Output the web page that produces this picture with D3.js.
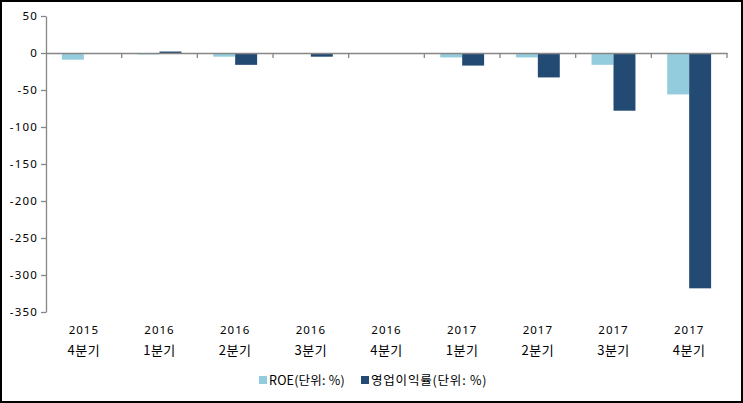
<!DOCTYPE html>
<html><head><meta charset="utf-8">
<script src="https://cdn.jsdelivr.net/npm/d3@7"></script>
<style>body{margin:0;background:#fff}svg{display:block}text{font-family:"Noto Sans CJK KR","DejaVu Sans",sans-serif;}</style>
</head><body><svg id="c" width="743" height="403"></svg>
<script>
const years = ["2015","2016","2016","2016","2016","2017","2017","2017","2017"];
const quarters = ["4분기","1분기","2분기","3분기","4분기","1분기","2분기","3분기","4분기"];
const roe = [-9, -2, -5, 0, 0, -6, -6, -16, -56];
const opMargin = [0, 2, -16, -5, 0, -17, -33, -78, -318];
const yTicks = [50, 0, -50, -100, -150, -200, -250, -300, -350];
const seriesNames = ["ROE(단위: %)", "영업이익률(단위: %)"];
const colors = ["#93CDDD", "#234A73"];

const svg = d3.select("#c");
svg.append("rect").attr("x",1).attr("y",1).attr("width",741).attr("height",401).attr("fill","#fff").attr("stroke","#000").attr("stroke-width",2);

const x0 = d3.scaleBand().domain(d3.range(years.length)).range([46, 727]);
const y = d3.scaleLinear().domain([-350, 50]).range([312, 16]);
const bw = x0.bandwidth() * 0.29;

const numFont = "'Noto Sans','DejaVu Sans',sans-serif";
const g = svg.append("g");
// y axis
const yAxis = g.append("g").attr("transform","translate(46,0)").call(d3.axisLeft(y).tickValues(yTicks).tickSize(5).tickSizeOuter(0).tickFormat(d => String(d)));
yAxis.select(".domain").attr("stroke","#868686").attr("stroke-width",1.3);
yAxis.selectAll(".tick line").attr("stroke","#868686").attr("stroke-width",1.3);
yAxis.selectAll("text").attr("font-size",11.5).attr("fill","#000").attr("x",-8).style("font-family",numFont).style("letter-spacing","1.2px");

const data = years.map((yr,i)=>({i, v:[roe[i], opMargin[i]]}));
data.forEach(d=>{
  d.v.forEach((v,s)=>{
    if (v===0) return;
    const cx = x0(d.i) + x0.bandwidth()/2 - bw + s*bw;
    g.append("rect").attr("x",cx).attr("width",bw)
     .attr("y", Math.min(y(v), y(0))).attr("height", Math.abs(y(v)-y(0)))
     .attr("fill", colors[s]);
  });
});

// x axis at zero
const xAxis = g.append("g").attr("transform",`translate(0,${y(0)})`)
  .call(d3.axisBottom(x0).tickValues([]).tickSizeOuter(0));
xAxis.select(".domain").attr("stroke","#868686").attr("stroke-width",1.3);
const tickXs = d3.range(1, years.length+1).map(i=> i<years.length ? x0(i) : 727);
tickXs.forEach(tx=>{
  g.append("line").attr("x1",tx).attr("x2",tx).attr("y1",y(0)).attr("y2",y(0)+5).attr("stroke","#868686").attr("stroke-width",1.3);
});

// category labels
years.forEach((yr,i)=>{
  const cx = x0(i)+x0.bandwidth()/2;
  g.append("text").attr("x",cx).attr("y",334).attr("text-anchor","middle").attr("font-size",11.5).style("font-family",numFont).style("letter-spacing","1px").text(yr);
  g.append("text").attr("x",cx).attr("y",355).attr("text-anchor","middle").attr("font-size",13).style("letter-spacing","0.5px").text(quarters[i]);
});

// legend
const lx = [259, 361];
seriesNames.forEach((n,s)=>{
  svg.append("rect").attr("x",lx[s]).attr("y",376).attr("width",8).attr("height",8).attr("fill",colors[s]);
  svg.append("text").attr("x",lx[s]+10).attr("y",385).attr("font-size",12.5).style("letter-spacing", s ? "0.8px" : "0.2px").text(n);
});
</script></body></html>
